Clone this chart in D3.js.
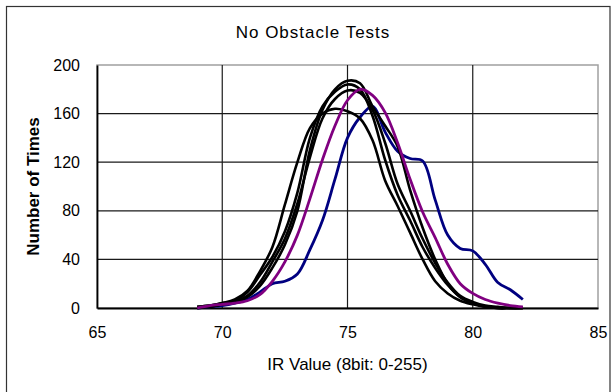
<!DOCTYPE html>
<html>
<head>
<meta charset="utf-8">
<script src="https://cdn.jsdelivr.net/npm/d3@7"></script>
<style>
  html, body { margin: 0; padding: 0; background: #fff; }
  svg { display: block; }
  text { font-family: "Liberation Sans", Arial, sans-serif; fill: #000; }
</style>
</head>
<body>
<svg id="chart" width="616" height="392"></svg>
<script>
// ---------- data ----------
const chartTitle = "No Obstacle Tests";
const xAxisTitle = "IR Value (8bit: 0-255)";
const yAxisTitle = "Number of Times";
const xTicks = [65, 70, 75, 80, 85];
const yTicks = [0, 40, 80, 120, 160, 200];

const irValues = [69, 69.5, 70, 70.5, 71, 71.5, 72, 72.5, 73, 73.5, 74, 74.5, 75, 75.5,
                  76, 76.5, 77, 77.5, 78, 78.5, 79, 79.5, 80, 80.5, 81, 81.5, 82];

const testBlack1 = [1, 2, 4, 7, 14, 30, 50, 85, 120, 148, 160, 164, 162, 156,
                    138, 105, 84, 62, 40, 22, 12, 6, 3, 1, 0, 0, 0];
const testBlack2 = [0, 1, 3, 5, 9, 18, 33, 52, 80, 130, 163, 180, 187, 185,
                    166, 150, 133, 97, 66, 40, 20, 9, 4, 1, 0, 0, 0];
const testBlack3 = [1, 2, 4, 6, 13, 27, 42, 63, 95, 140, 166, 178, 184, 180,
                    158, 122, 93, 72, 50, 33, 19, 9, 4, 1, 0, 0, 0];
const testBlack4 = [0, 1, 3, 5, 10, 21, 38, 57, 86, 124, 156, 172, 179, 177,
                    163, 136, 102, 80, 57, 37, 21, 10, 5, 2, 1, 0, 0];
const testPurple = [0, 2, 3, 4, 6, 11, 22, 38, 60, 90, 122, 150, 171, 180,
                    175, 161, 136, 106, 79, 58, 36, 20, 12, 7, 4, 2, 1];
const testBlue   = [0, 1, 2, 4, 7, 13, 20, 22, 28, 48, 72, 106, 140, 157,
                    166, 145, 129, 123, 121, 89, 60, 49, 47, 36, 21, 15, 7];

const seriesList = [
  { name: "Test Blue",  values: testBlue,   color: "#000080" },
  { name: "Test 1",     values: testBlack1, color: "#000000" },
  { name: "Test 3",     values: testBlack3, color: "#000000" },
  { name: "Test 4",     values: testBlack4, color: "#000000" },
  { name: "Test 2",     values: testBlack2, color: "#000000" },
  { name: "Test Purple",values: testPurple, color: "#800080" }
];

// ---------- layout ----------
const svg = d3.select("#chart");
const plot = { left: 97, right: 598, top: 65, bottom: 308 };

// outer frame
svg.append("rect")
  .attr("x", 6.5).attr("y", 6.5)
  .attr("width", 603.5).attr("height", 400)
  .attr("fill", "none").attr("stroke", "#333").attr("stroke-width", 1.2);

const x = d3.scaleLinear().domain([65, 85]).range([plot.left, plot.right]);
const y = d3.scaleLinear().domain([0, 200]).range([plot.bottom, plot.top]);

// plot border (top/right gray)
svg.append("rect")
  .attr("x", plot.left).attr("y", plot.top)
  .attr("width", plot.right - plot.left).attr("height", plot.bottom - plot.top)
  .attr("fill", "none").attr("stroke", "#a0a0a0").attr("stroke-width", 1.5);

// gridlines
const grid = svg.append("g");
grid.selectAll("line.h").data(yTicks.filter(d => d > 0 && d < 200)).enter()
  .append("line")
  .attr("x1", plot.left).attr("x2", plot.right)
  .attr("y1", d => y(d)).attr("y2", d => y(d))
  .attr("stroke", "#1a1a1a").attr("stroke-width", 1.2);
grid.selectAll("line.v").data(xTicks.filter(d => d > 65 && d < 85)).enter()
  .append("line")
  .attr("y1", plot.top).attr("y2", plot.bottom)
  .attr("x1", d => x(d)).attr("x2", d => x(d))
  .attr("stroke", "#1a1a1a").attr("stroke-width", 1.2);

// axes
const xAxis = d3.axisBottom(x).tickValues(xTicks).tickSize(0).tickPadding(19)
  .tickFormat(d3.format("d"));
const yAxis = d3.axisLeft(y).tickValues(yTicks).tickSize(0).tickPadding(17)
  .tickFormat(d3.format("d"));

const gx = svg.append("g").attr("transform", `translate(0,${plot.bottom})`).call(xAxis);
const gy = svg.append("g").attr("transform", `translate(${plot.left},0)`).call(yAxis);
[gx, gy].forEach(g => {
  g.select(".domain").attr("stroke", "#000").attr("stroke-width", 1.8);
  g.selectAll("text").attr("font-size", 16)
    .attr("font-family", "'Liberation Sans', Arial, sans-serif").attr("fill", "#000");
});

// curves
const line = d3.line()
  .x((d, i) => x(irValues[i]))
  .y(d => y(d))
  .curve(d3.curveCatmullRom.alpha(0.5));

svg.append("g")
  .selectAll("path").data(seriesList).enter()
  .append("path")
  .attr("d", s => line(s.values))
  .attr("fill", "none")
  .attr("stroke", s => s.color)
  .attr("stroke-width", s => s.color === "#000000" ? 2.6 : 2.8)
  .attr("stroke-linejoin", "round");

// titles
svg.append("text")
  .attr("x", 313).attr("y", 38)
  .attr("text-anchor", "middle")
  .attr("font-size", 17).attr("letter-spacing", 1)
  .text(chartTitle);

svg.append("text")
  .attr("x", (plot.left + plot.right) / 2).attr("y", 370)
  .attr("text-anchor", "middle")
  .attr("font-size", 17)
  .text(xAxisTitle);

svg.append("text")
  .attr("transform", `translate(39,${(plot.top + plot.bottom) / 2}) rotate(-90)`)
  .attr("text-anchor", "middle")
  .attr("font-size", 17).attr("font-weight", "bold")
  .text(yAxisTitle);
</script>
</body>
</html>
